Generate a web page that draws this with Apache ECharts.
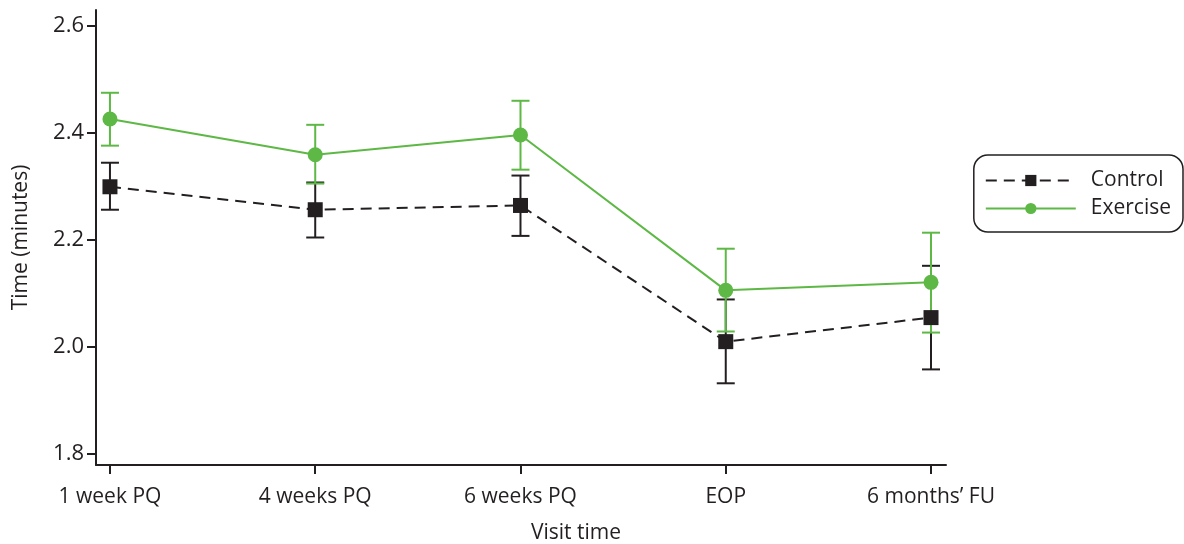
<!DOCTYPE html>
<html><head><meta charset="utf-8">
<script src="https://cdn.jsdelivr.net/npm/echarts@6/dist/echarts.min.js"></script>
<style>html,body{margin:0;padding:0;background:#fff}#c{width:1184px;height:544px}</style>
</head><body><div id="c"></div>
<script>
const categories = ['1 week PQ', '4 weeks PQ', '6 weeks PQ', 'EOP', '6 months\u2019 FU'];
const yTicks = [1.8, 2.0, 2.2, 2.4, 2.6];
const controlMean = [2.299, 2.256, 2.264, 2.009, 2.054];
const controlLow  = [2.256, 2.204, 2.207, 1.931, 1.957];
const controlHigh = [2.344, 2.307, 2.320, 2.088, 2.151];
const exerciseMean = [2.426, 2.359, 2.396, 2.105, 2.120];
const exerciseLow  = [2.376, 2.305, 2.331, 2.028, 2.026];
const exerciseHigh = [2.475, 2.415, 2.460, 2.183, 2.213];

const BLACK = '#231f20', GREEN = '#5db845';
const FONT = 'Open Sans';

function errSeries(name, low, high, color, z) {
  return {
    type: 'custom', name: name + ' err', z: z, silent: true,
    data: low.map((l, i) => [i, l, high[i]]),
    renderItem: function (params, api) {
      const x = api.value(0);
      const p1 = api.coord([x, api.value(1)]);
      const p2 = api.coord([x, api.value(2)]);
      const w = 9;
      const st = { stroke: color, lineWidth: 2 };
      return { type: 'group', children: [
        { type: 'line', shape: { x1: p1[0], y1: p1[1], x2: p2[0], y2: p2[1] }, style: st },
        { type: 'line', shape: { x1: p1[0] - w, y1: p1[1], x2: p1[0] + w, y2: p1[1] }, style: st },
        { type: 'line', shape: { x1: p2[0] - w, y1: p2[1], x2: p2[0] + w, y2: p2[1] }, style: st }
      ]};
    }
  };
}

const chart = echarts.init(document.getElementById('c'));
chart.setOption({
  animation: false,
  grid: { left: 96, right: 238, top: 10, bottom: 79, outerBoundsMode: 'none', containLabel: false },
  legend: {
    orient: 'vertical', right: 1, top: 155,
    itemWidth: 90, itemHeight: 14, itemGap: 7,
    padding: [15, 12, 13, 11],
    borderColor: BLACK, borderWidth: 1.5, borderRadius: 14,
    textStyle: { fontFamily: FONT, fontSize: 21, color: BLACK, padding: [0, 0, 0, 10] },
    data: ['Control', 'Exercise']
  },
  xAxis: {
    type: 'value', min: -0.068, max: 4.073,
    name: 'Visit time', nameLocation: 'middle', nameGap: 58,
    nameTextStyle: { fontFamily: FONT, fontSize: 21, color: BLACK, padding: [0, 0, 0, 110] },
    axisLine: { onZero: false, lineStyle: { color: BLACK, width: 2 } },
    axisTick: { show: true, length: 9, lineStyle: { color: BLACK, width: 2 }, customValues: [0, 1, 2, 3, 4] },
    axisLabel: { fontFamily: FONT, fontSize: 21, color: BLACK, margin: 22,
      customValues: [0, 1, 2, 3, 4], formatter: v => categories[Math.round(v)] },
    splitLine: { show: false }
  },
  yAxis: {
    type: 'value', min: 1.778, max: 2.63,
    name: 'Time (minutes)', nameLocation: 'middle', nameGap: 64,
    nameTextStyle: { fontFamily: FONT, fontSize: 21, color: BLACK },
    axisLine: { show: true, onZero: false, lineStyle: { color: BLACK, width: 2 } },
    axisTick: { show: true, length: 9, lineStyle: { color: BLACK, width: 2 }, customValues: yTicks },
    axisLabel: { fontFamily: FONT, fontSize: 22, color: BLACK, margin: 12,
      customValues: yTicks, formatter: v => v.toFixed(1) },
    splitLine: { show: false }
  },
  series: [
    errSeries('Control', controlLow, controlHigh, BLACK, 2),
    errSeries('Exercise', exerciseLow, exerciseHigh, GREEN, 3),
    {
      name: 'Control', type: 'line', z: 4,
      data: controlMean.map((v, i) => [i, v]),
      symbol: 'rect', symbolSize: 15,
      lineStyle: { color: BLACK, width: 2, type: [11, 7] },
      itemStyle: { color: BLACK }
    },
    {
      name: 'Exercise', type: 'line', z: 5,
      data: exerciseMean.map((v, i) => [i, v]),
      symbol: 'circle', symbolSize: 15,
      lineStyle: { color: GREEN, width: 2 },
      itemStyle: { color: GREEN }
    }
  ]
});
</script></body></html>
